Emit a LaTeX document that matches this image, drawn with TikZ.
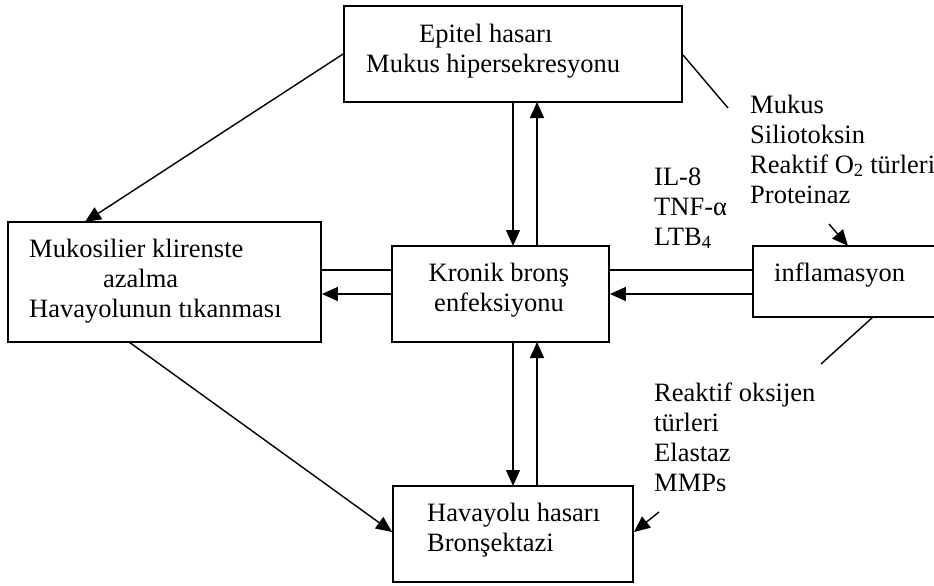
\documentclass[tikz,border=0pt]{standalone}
\usepackage{fontspec}
\setmainfont{Liberation Serif}
\usetikzlibrary{arrows.meta}
\begin{document}
\begin{tikzpicture}[x=1pt,y=-1pt,
  box/.style={draw, line width=1.8pt, inner sep=0pt, rectangle},
  txt/.style={inner sep=0pt, anchor=north west, align=left, font=\fontsize{26.5}{30}\selectfont},
  ctxt/.style={inner sep=0pt, anchor=north, align=center, font=\fontsize{26.5}{30}\selectfont},
  con/.style={line width=1.4pt},
  arr/.style={line width=1.4pt, -{Triangle[length=16pt,width=14pt]}}]
\useasboundingbox (0,0) rectangle (934,586);
\clip (0,0) rectangle (934,586);
% boxes
\node[box, minimum width=338pt, minimum height=96pt] (epi) at (513,54) {};
\node[box, minimum width=313pt, minimum height=120pt] (muk) at (164.5,282) {};
\node[box, minimum width=217pt, minimum height=96pt] (kro) at (500.5,294) {};
\node[box, minimum width=200pt, minimum height=71pt] (inf) at (853,281.5) {};
\node[box, minimum width=240pt, minimum height=96pt] (hav) at (513,534) {};
% box texts
\node[txt] (epit1) at (419,21) {\strut Epitel hasarı};
\node[txt] (epit2) at (366,51) {\strut Mukus hipersekresyonu};
\node[txt] (mukt1) at (29,236) {\strut Mukosilier klirenste};
\node[txt] (mukt2) at (103,266) {\strut azalma};
\node[txt] (mukt3) at (29,296) {\strut Havayolunun tıkanması};
\node[ctxt] (krot) at (499,260) {\strut Kronik bronş\\enfeksiyonu};
\node[txt] (inft) at (774,260) {\strut inflamasyon};
\node[txt] (havt) at (427,500) {\strut Havayolu hasarı\\Bronşektazi};
% free labels
\node[txt] (lab1) at (750,92) {\strut Mukus\\Siliotoksin\\Reaktif O\textsubscript{2} türleri\\Proteinaz};
\node[txt] (lab2) at (654,164) {\strut IL-8\\TNF-α\\LTB\textsubscript{4}};
\node[txt] (lab3) at (654,380) {\strut Reaktif oksijen\\türleri\\Elastaz\\MMPs};
% coordinates
\coordinate (c1) at (728,108);
\coordinate (c2a) at (829,224);
\coordinate (c2b) at (848,246);
\coordinate (c3) at (821,364);
\coordinate (c4a) at (659,512);
\coordinate (c4b) at (634,532);
% connectors
\draw[arr] (epi.west) -- (85,222);
\draw[arr] (513,102) -- (513,246);
\draw[arr] (537,246) -- (537,102);
\draw[con] (kro.west |- 0,270) -- (muk.east |- 0,270);
\draw[arr] (kro.west |- 0,294) -- (muk.east |- 0,294);
\draw[con] (inf.west |- 0,270) -- (kro.east |- 0,270);
\draw[arr] (inf.west |- 0,294) -- (kro.east |- 0,294);
\draw[arr] (513,342) -- (513,486);
\draw[arr] (537,486) -- (537,342);
\draw[arr] (129,342) -- (hav.west |- 0,532);
\draw[con] (683,55) -- (c1);
\draw[arr] (c2a) -- (c2b);
\draw[con] (873,317) -- (c3);
\draw[arr] (c4a) -- (c4b);
\end{tikzpicture}
\end{document}
